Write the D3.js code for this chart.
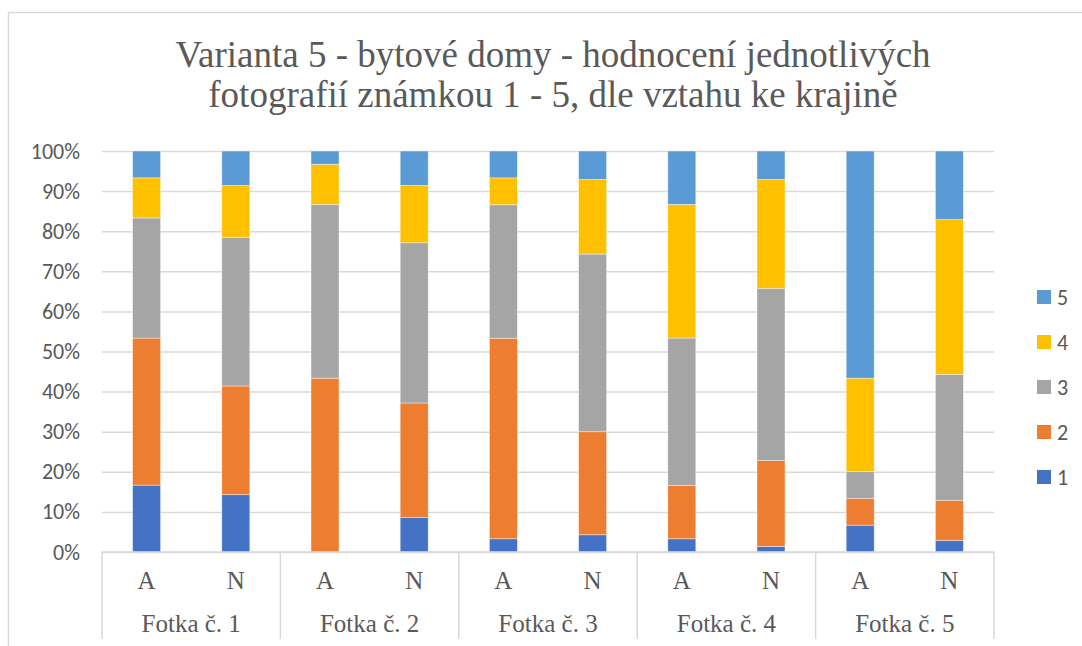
<!DOCTYPE html>
<html>
<head>
<meta charset="utf-8">
<script src="https://cdn.jsdelivr.net/npm/d3@7"></script>
<style>
  body { margin: 0; background: #fff; }
</style>
</head>
<body>
<svg width="1082" height="646"></svg>
<script>
const photos = ["Fotka č. 1", "Fotka č. 2", "Fotka č. 3", "Fotka č. 4", "Fotka č. 5"];
const groups = ["A", "N"];
const grades = ["1", "2", "3", "4", "5"];
const yTicks = [0, 0.1, 0.2, 0.3, 0.4, 0.5, 0.6, 0.7, 0.8, 0.9, 1];

// values in %, order: Fotka 1 A, Fotka 1 N, Fotka 2 A, ...
const grade1 = [16.7, 14.3, 0, 8.6, 3.3, 4.3, 3.3, 1.4, 6.7, 2.9];
const grade2 = [36.7, 27.1, 43.3, 28.6, 50, 25.7, 13.3, 21.4, 6.7, 10];
const grade3 = [30, 37.1, 43.3, 40, 33.3, 44.3, 36.7, 42.9, 6.7, 31.4];
const grade4 = [10, 12.9, 10, 14.3, 6.7, 18.6, 33.3, 27.1, 23.3, 38.6];
const grade5 = [6.7, 8.6, 3.3, 8.6, 6.7, 7.1, 13.3, 7.1, 56.7, 17.1];

const colors = {"1": "#4472c4", "2": "#ed7d31", "3": "#a5a5a5", "4": "#ffc000", "5": "#5b9bd5"};
const textColor = "#595959";
const gridColor = "#d9d9d9";
const serif = "Liberation Serif";
const sans = "Carlito";

const plot = {left: 102, right: 994, top: 151, bottom: 552};

var rows = [];
photos.forEach(function(p, i) {
  groups.forEach(function(g, j) {
    var k = i * 2 + j;
    rows.push({photo: p, group: g, "1": grade1[k], "2": grade2[k], "3": grade3[k], "4": grade4[k], "5": grade5[k]});
  });
});

var svg = d3.select("svg");

// outer frame
svg.append("rect")
   .attr("x", 8.5).attr("y", 12.5)
   .attr("width", 1090).attr("height", 640)
   .attr("fill", "none").attr("stroke", gridColor).attr("stroke-width", 1.5);

// title
var title = svg.append("text")
   .attr("text-anchor", "middle")
   .attr("font-family", serif)
   .attr("font-size", 37)
   .attr("fill", textColor);
title.append("tspan").attr("x", 553).attr("y", 67).text("Varianta 5 - bytové domy - hodnocení jednotlivých");
title.append("tspan").attr("x", 553).attr("y", 107).text("fotografií známkou 1 - 5, dle vztahu ke krajině");

var photoScale = d3.scaleBand()
                   .domain(photos)
                   .range([plot.left, plot.right]);
var groupScale = d3.scaleBand()
                   .domain(groups)
                   .range([0, photoScale.bandwidth()])
                   .paddingInner(0.686)
                   .paddingOuter(0.343);
var yScale = d3.scaleLinear()
               .domain([0, 1])
               .range([plot.bottom, plot.top]);

// y axis + gridlines
var yAxis = d3.axisLeft()
              .scale(yScale)
              .tickValues(yTicks)
              .tickFormat(d3.format(".0%"))
              .tickSize(-(plot.right - plot.left));
svg.append("g")
   .attr("class", "axis")
   .attr("transform", "translate(" + plot.left + ",0)")
   .call(customYAxis);

function customYAxis(g) {
  g.call(yAxis);
  g.select(".domain").remove();
  g.selectAll(".tick line").attr("stroke", gridColor).attr("stroke-width", 1.5);
  g.selectAll(".tick text")
   .attr("x", -22)
   .attr("fill", textColor)
   .attr("font-family", sans)
   .attr("font-size", 22);
}

// stacked bars
var stack = d3.stack().keys(grades).offset(d3.stackOffsetExpand);
var layers = stack(rows);

svg.append("g")
   .selectAll("g")
   .data(layers)
   .join("g")
   .attr("fill", function(d) { return colors[d.key]; })
   .selectAll("rect")
   .data(function(d) { return d; })
   .join("rect")
   .attr("x", function(d) { return photoScale(d.data.photo) + groupScale(d.data.group); })
   .attr("y", function(d) { return yScale(d[1]); })
   .attr("height", function(d) { return yScale(d[0]) - yScale(d[1]); })
   .attr("width", groupScale.bandwidth())
   .attr("stroke", "#ffffff")
   .attr("stroke-opacity", 0.5)
   .attr("stroke-width", 0.8);

// category axis (two levels)
var xg = svg.append("g").attr("class", "xcat");
xg.append("line")
  .attr("x1", plot.left).attr("x2", plot.right)
  .attr("y1", plot.bottom).attr("y2", plot.bottom)
  .attr("stroke", gridColor).attr("stroke-width", 1.5);

var bounds = photos.map(function(p) { return photoScale(p); }).concat([plot.right]);
xg.selectAll(".sep")
  .data(bounds)
  .join("line")
  .attr("class", "sep")
  .attr("x1", function(d) { return d; }).attr("x2", function(d) { return d; })
  .attr("y1", plot.bottom).attr("y2", 639)
  .attr("stroke", gridColor).attr("stroke-width", 1.5);

xg.selectAll(".grp")
  .data(rows)
  .join("text")
  .attr("class", "grp")
  .attr("x", function(d) { return photoScale(d.photo) + groupScale(d.group) + groupScale.bandwidth() / 2; })
  .attr("y", 589)
  .attr("text-anchor", "middle")
  .attr("font-family", serif)
  .attr("font-size", 25)
  .attr("fill", textColor)
  .text(function(d) { return d.group; });

xg.selectAll(".photo")
  .data(photos)
  .join("text")
  .attr("class", "photo")
  .attr("x", function(d) { return photoScale(d) + photoScale.bandwidth() / 2; })
  .attr("y", 632)
  .attr("text-anchor", "middle")
  .attr("font-family", serif)
  .attr("font-size", 25)
  .attr("fill", textColor)
  .text(function(d) { return d; });

// legend (5 on top)
var legendItems = grades.slice().reverse();
var legend = svg.append("g")
                .selectAll("g")
                .data(legendItems)
                .join("g")
                .attr("transform", function(d, i) { return "translate(1037," + (297 + i * 45) + ")"; });
legend.append("rect")
      .attr("x", 0).attr("y", -7)
      .attr("width", 14).attr("height", 14)
      .attr("fill", function(d) { return colors[d]; });
legend.append("text")
      .attr("x", 20).attr("y", 0).attr("dy", "0.35em")
      .attr("font-family", sans)
      .attr("font-size", 22)
      .attr("fill", textColor)
      .text(function(d) { return d; });
</script>
</body>
</html>
